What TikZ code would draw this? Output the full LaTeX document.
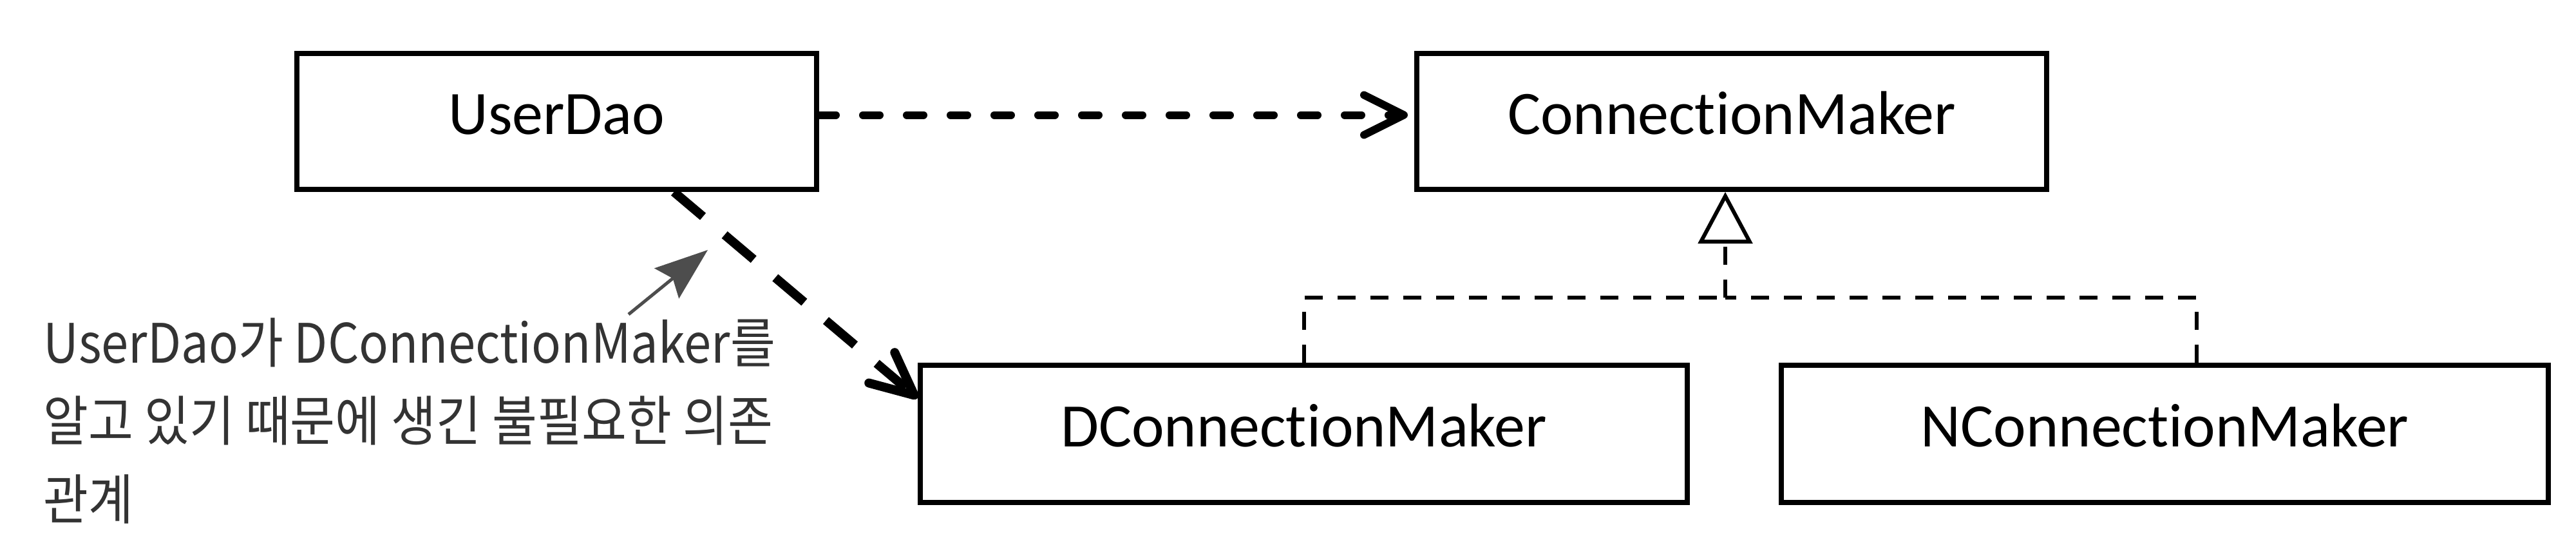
\documentclass[tikz,border=0pt]{standalone}
\usepackage{fontspec}
\usepackage{xcolor}
\usepackage{tikz}
\usetikzlibrary{arrows.meta, positioning, calc}
\newfontfamily\boxfont[Ligatures=NoCommon]{Carlito}
\newfontfamily\notefont[FakeStretch=0.9]{Noto Sans CJK KR}
\definecolor{notegray}{HTML}{333333}
\definecolor{pointgray}{HTML}{4D4D4D}

\begin{document}
\begin{tikzpicture}[
      font=\boxfont\fontsize{27.3}{30}\selectfont,
      cls/.style={rectangle, draw=black, line width=0.08cm, fill=white, align=center,
        minimum width=8.07cm, minimum height=2.11cm, text height=0.63cm, text depth=0.24cm},
      wide/.style={cls, minimum width=11.91cm, minimum height=2.13cm},
      uses/.style={line width=0.12cm, line cap=round, dash pattern=on 0.26cm off 0.42cm,
        -{Straight Barb[length=0.62cm, width=0.62cm, line cap=round, line join=round]}},
      knows/.style={line width=0.14cm, dash pattern=on 0.59cm off 0.44cm,
        -{Straight Barb[length=0.66cm, width=0.62cm, line cap=round, line join=round]}},
      realize/.style={line width=0.06cm, dash pattern=on 0.28cm off 0.23cm},
      note/.style={font=\notefont\fontsize{24}{34.5}\selectfont, text=notegray, align=left, inner sep=0pt},
      pointer/.style={draw=pointgray, line width=0.05cm,
        -{Stealth[length=0.82cm, width=0.6cm, inset=0.12cm, fill=pointgray]}}
    ]
      \useasboundingbox (0,0) rectangle (40,-8.45);
      \node[cls] (userdao) at (8.645,-1.885) {UserDao};
      \node[cls, minimum width=9.78cm, right=9.24cm of userdao] (conn) {ConnectionMaker};
      \node[wide] (dcm) at (20.245,-6.735) {DConnectionMaker};
      \node[wide, right=1.38cm of dcm] (ncm) {NConnectionMaker};
      % base anchor sits on the last line
      \node[note, anchor=base west] (note) at (0.67,-8.06)
        {UserDao가 DConnectionMaker를\\알고 있기 때문에 생긴 불필요한 의존\\관계};
      \coordinate (joint) at (26.79,-4.62);
      \coordinate (tail) at (9.76,-4.88);
      \coordinate (aim) at (10.99,-3.88);
      % dependencies
      \draw[uses] ([yshift=1mm]userdao.east) -- ([yshift=1mm,xshift=-1mm]conn.west);
      \draw[knows] ([xshift=1.82cm]userdao.south) -- ([yshift=-0.55cm]dcm.north west);
      % realization
      \draw[realize] (dcm.north) |- (joint);
      \draw[realize] ([xshift=4.95mm]ncm.north) |- (joint);
      \draw[realize, -{Triangle[open, length=0.8cm, width=0.84cm]}] (joint) -- (joint |- conn.south);
      \draw[pointer] (tail) -- (aim);
    \end{tikzpicture}
\end{document}
